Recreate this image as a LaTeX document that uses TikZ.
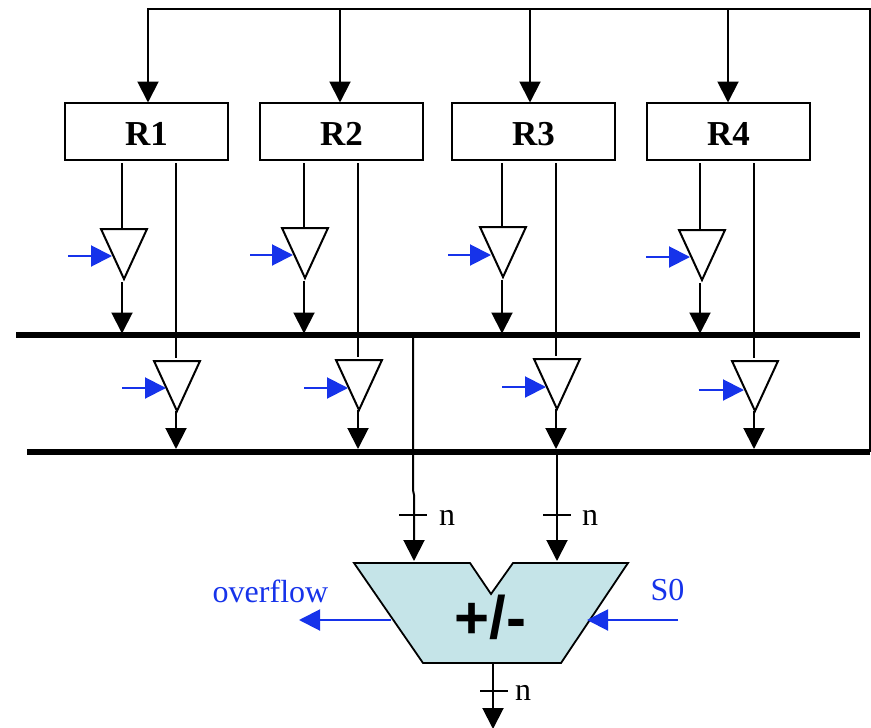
\documentclass[tikz,border=0pt]{standalone}
\usepackage{fontspec}
\setmainfont{Liberation Serif}
\newfontfamily\alufont{Liberation Sans}
\usetikzlibrary{arrows.meta,calc}
\definecolor{sigblue}{HTML}{1633EA}
\definecolor{alufill}{HTML}{C5E4E8}
\tikzset{
  wire/.style={line width=2pt,black},
  wirearrow/.style={wire,-{Triangle[length=21pt,width=21pt]}},
  sigarrow/.style={line width=2pt,sigblue,-{Triangle[length=21pt,width=21pt]}},
  bus/.style={line width=6pt,black},
  regbox/.style={draw,line width=1.8pt,minimum width=163pt,minimum height=57pt,inner sep=0pt},
  buffer/.style={draw,line width=2pt,fill=white,line join=miter},
  tick/.style={line width=1.5pt},
  lab/.style={font=\fontsize{32}{32}\selectfont,inner sep=0pt},
  siglab/.style={lab,text=sigblue},
}
\begin{document}
\begin{tikzpicture}[x=1pt,y=-1pt]
\useasboundingbox (0,0) rectangle (871,728);
% buses
\coordinate (b1l) at (16,335); \coordinate (b1r) at (860,335);
\coordinate (b2l) at (27,452); \coordinate (b2r) at (870,452);
% feedback line
\coordinate (fbl) at (147,9); \coordinate (fbr) at (870,9);
\draw[wire] (fbl) -- (fbr) -- (b2r);
% columns
\foreach \i/\txt/\cx/\ax/\lx/\rx/\ta/\tya/\tb/\tyb/\ba/\bya/\bb/\byb in {
  1/R1/146.5/148/122/176/101/229/154/361/68/256/122/388,
  2/R2/341.5/340/304/358/282/228/336/360/250/255/304/388,
  3/R3/533.5/530/502/556/480/227/534/359/448/255/502/387,
  4/R4/728.5/728/700/754/679/230/732/361/646/257/699/390}{
  \node[regbox] (reg\i) at (\cx,131.5) {};
  \node[font=\fontsize{35}{35}\selectfont\bfseries,inner sep=0pt] (regt\i) at (\cx,134) {\txt};
  % top feed
  \coordinate (top\i) at (\ax,9);
  \draw[wirearrow] (top\i) -- (\ax,102.5);
  % first buffer
  \coordinate (la\i) at (\lx,163);
  \coordinate (lb\i) at (\lx,\tya);
  \draw[wire] (la\i) -- (lb\i);
  \draw[buffer] (\ta,\tya) -- ++(46,0) -- ++(-23,50) -- cycle;
  \coordinate (lc\i) at (\lx,{\tya+53});
  \coordinate (ld\i) at (\lx,333.5);
  \draw[wirearrow] (lc\i) -- (ld\i);
  \coordinate (sa\i) at (\ba,\bya);
  \coordinate (sb\i) at ({\ta+11},\bya);
  \draw[sigarrow] (sa\i) -- (sb\i);
  % second buffer
  \coordinate (ra\i) at (\rx,163);
  \coordinate (rb\i) at (\rx,{\tyb-3});
  \draw[wire] (ra\i) -- (rb\i);
  \draw[buffer] (\tb,\tyb) -- ++(46,0) -- ++(-23,50) -- cycle;
  \coordinate (rc\i) at (\rx,{\tyb+50});
  \coordinate (rd\i) at (\rx,449);
  \draw[wirearrow] (rc\i) -- (rd\i);
  \coordinate (ta\i) at (\bb,\byb);
  \coordinate (tb\i) at ({\tb+12},\byb);
  \draw[sigarrow] (ta\i) -- (tb\i);
}
\draw[bus] (b1l) -- (b1r);
\draw[bus] (b2l) -- (b2r);
% ALU
\draw[line width=1.8pt,fill=alufill,line join=miter] (354,563) -- (470,563) -- (491,594) -- (513,563) -- (628,563) -- (561,663) -- (423,663) -- cycle;
\node[font=\alufont\fontsize{60}{60}\selectfont\bfseries,inner sep=0pt] (alut) at (490.5,617) {+/-};
% ALU inputs
\coordinate (ina) at (413,335); \coordinate (inat) at (414,561);
\coordinate (inb) at (557,452); \coordinate (inbt) at (557,561);
\draw[wirearrow] (ina) -- (413,490) -- (414,495) -- (inat);
\draw[wirearrow] (inb) -- (inbt);
\coordinate (outa) at (493,663); \coordinate (outb) at (493,729);
\draw[wirearrow] (outa) -- (outb);
% width ticks
\draw[tick] (399,515) -- (427,515);
\draw[tick] (543,515) -- (571,515);
\draw[tick] (480,691) -- (508,691);
\node[lab,anchor=base] (n1) at (447,525) {n};
\node[lab,anchor=base] (n2) at (590,525) {n};
\node[lab,anchor=base] (n3) at (523,700) {n};
% overflow, S0
\coordinate (ofa) at (391,620); \coordinate (ofb) at (299,620);
\draw[sigarrow] (ofa) -- (ofb);
\node[siglab,anchor=base] (of) at (270.5,602) {overflow};
\coordinate (s0a) at (678,620); \coordinate (s0b) at (587,620);
\draw[sigarrow] (s0a) -- (s0b);
\node[siglab,anchor=base] (s0) at (667.5,600) {S0};
\end{tikzpicture}
\end{document}
